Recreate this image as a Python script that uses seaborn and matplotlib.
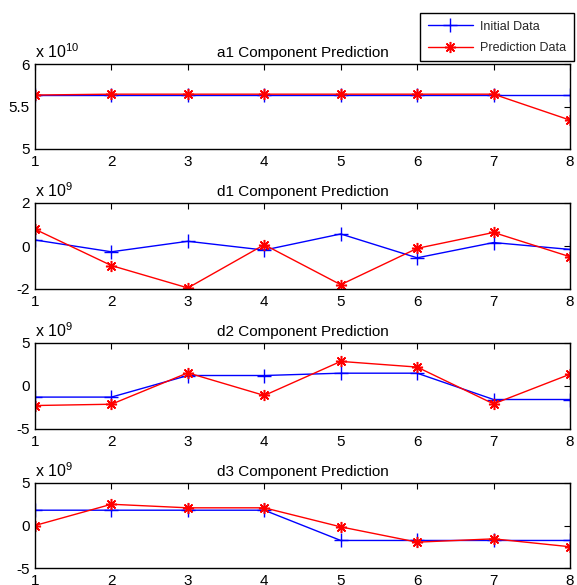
import matplotlib
matplotlib.use("Agg")
import matplotlib.pyplot as plt
import seaborn as sns

# time steps
x_steps = [1, 2, 3, 4, 5, 6, 7, 8]

# a1 component (x 1e10)
a1_initial = [5.635, 5.635, 5.635, 5.635, 5.635, 5.635, 5.635, 5.635]
a1_pred = [5.635, 5.645, 5.645, 5.645, 5.645, 5.645, 5.645, 5.34]

# d1 component (x 1e9)
d1_initial = [0.28, -0.27, 0.22, -0.19, 0.56, -0.55, 0.16, -0.16]
d1_pred = [0.78, -0.91, -1.95, 0.06, -1.80, -0.11, 0.63, -0.50]

# d2 component (x 1e9)
d2_initial = [-1.29, -1.29, 1.22, 1.22, 1.49, 1.49, -1.57, -1.57]
d2_pred = [-2.27, -2.12, 1.53, -1.10, 2.86, 2.20, -2.08, 1.37]

# d3 component (x 1e9)
d3_initial = [1.80, 1.80, 1.80, 1.80, -1.76, -1.76, -1.76, -1.76]
d3_pred = [0.0, 2.50, 2.08, 2.08, -0.16, -1.96, -1.57, -2.50]

titles = ["a1 Component Prediction", "d1 Component Prediction",
          "d2 Component Prediction", "d3 Component Prediction"]
exponents = ["10", "9", "9", "9"]
yticks_list = [[5, 5.5, 6], [-2, 0, 2], [-5, 0, 5], [-5, 0, 5]]
ylims = [(5, 6), (-2, 2), (-5, 5), (-5, 5)]

sns.set_theme(style="white")
plt.rcParams['font.family'] = ['Liberation Sans', 'DejaVu Sans']
plt.rcParams['mathtext.fontset'] = 'custom'
plt.rcParams['mathtext.rm'] = 'Liberation Sans'

fig = plt.figure(figsize=(5.77, 5.85), dpi=100)
W, H = 577.0, 585.0
left, right = 35, 570
tops = [64, 203, 343, 483]
bottoms = [149, 289, 429, 568]

series = [(a1_initial, a1_pred), (d1_initial, d1_pred),
          (d2_initial, d2_pred), (d3_initial, d3_pred)]

asterisk = (8, 2, 0)

axes = []
for i, (init, pred) in enumerate(series):
    ax = fig.add_axes([left / W, 1 - bottoms[i] / H, (right - left) / W,
                       (bottoms[i] - tops[i]) / H])
    sns.lineplot(x=x_steps, y=init, ax=ax, color="blue", lw=1,
                 marker="+", markersize=10, markeredgecolor="blue",
                 markeredgewidth=1, legend=False, label="Initial Data")
    sns.lineplot(x=x_steps, y=pred, ax=ax, color="red", lw=1,
                 marker=asterisk, markersize=8, markeredgecolor="red",
                 markerfacecolor="red", markeredgewidth=1.1, legend=False,
                 label="Prediction Data")
    if ax.get_legend() is not None:
        ax.get_legend().remove()
    ax.set_xlim(1, 8)
    ax.set_ylim(*ylims[i])
    ax.set_xticks(x_steps)
    ax.set_yticks(yticks_list[i])
    ax.set_yticklabels([f"{t:g}" for t in yticks_list[i]])
    ax.tick_params(direction="in", top=True, right=True, length=4,
                   width=0.8, color="black", labelsize=11, pad=4,
                   labelcolor="black")
    for sp in ax.spines.values():
        sp.set_color("black")
        sp.set_linewidth(1.0)
    ax.set_title(titles[i], fontsize=11, pad=5, color="black")
    ax.text(0.0, 1.04, "x 10$^{" + exponents[i] + "}$", transform=ax.transAxes,
            fontsize=11.5, ha="left", va="bottom", color="black")
    axes.append(ax)

handles = axes[0].get_lines()[:2]
fig.legend(handles, ["Initial Data", "Prediction Data"], loc="upper right",
           bbox_to_anchor=(574 / W, 1 - 13 / H), borderaxespad=0,
           fancybox=False, edgecolor="black", framealpha=1, fontsize=9,
           handlelength=3.6, borderpad=0.6, labelspacing=0.75,
           handletextpad=0.6)

fig.savefig("out.png", dpi=100)
